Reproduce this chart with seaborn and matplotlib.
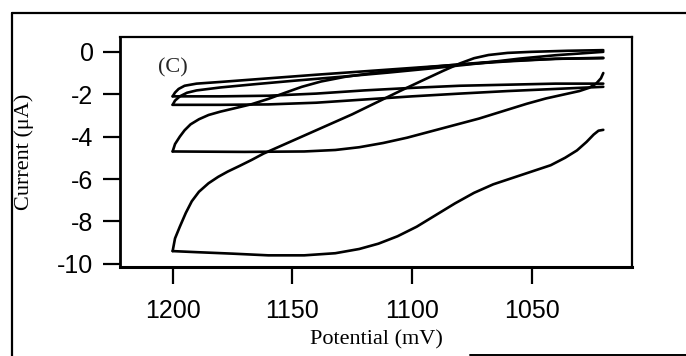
import numpy as np
import pandas as pd
import matplotlib
matplotlib.use('Agg')
import matplotlib.pyplot as plt
import seaborn as sns

# ---- values (potential in mV, current in uA) ----
# cycle 1 (largest loop)
big_fwd_v = [1020, 1022, 1024, 1027, 1031, 1036, 1042, 1050, 1058, 1066, 1074, 1082, 1090,
             1098, 1106, 1114, 1122, 1132, 1145, 1160, 1175, 1190, 1200]
big_fwd_i = [-3.68, -3.72, -3.9, -4.25, -4.65, -5.0, -5.35, -5.65, -5.95, -6.25, -6.65, -7.15,
             -7.7, -8.25, -8.7, -9.05, -9.3, -9.5, -9.6, -9.6, -9.52, -9.45, -9.4]
big_rev_v = [1200, 1199, 1197, 1194.5, 1192, 1189, 1185, 1181, 1177, 1172, 1167, 1162, 1155,
             1145, 1135, 1125, 1115, 1105, 1095, 1087, 1080, 1074, 1068, 1060, 1050, 1035, 1020]
big_rev_i = [-9.4, -8.8, -8.25, -7.6, -7.05, -6.6, -6.2, -5.9, -5.65, -5.38, -5.1, -4.8, -4.45,
             -3.95, -3.45, -2.95, -2.4, -1.85, -1.32, -0.9, -0.55, -0.3, -0.15, -0.05, 0.0, 0.05, 0.08]

# cycle 2 (middle loop)
mid_fwd_v = [1020, 1021, 1023, 1026, 1030, 1036, 1044, 1052, 1062, 1072, 1082, 1092, 1102,
             1112, 1122, 1132, 1145, 1170, 1200]
mid_fwd_i = [-1.0, -1.25, -1.5, -1.7, -1.85, -2.0, -2.2, -2.45, -2.8, -3.15, -3.45, -3.75,
             -4.05, -4.3, -4.5, -4.63, -4.7, -4.72, -4.7]
mid_rev_v = [1200, 1199, 1197, 1195, 1192.5, 1189, 1185, 1180, 1174, 1167, 1160, 1153, 1146,
             1138, 1128, 1115, 1100, 1085, 1070, 1055, 1040, 1020]
mid_rev_i = [-4.7, -4.35, -4.0, -3.7, -3.42, -3.18, -2.98, -2.82, -2.66, -2.47, -2.22, -1.93,
             -1.65, -1.4, -1.18, -0.98, -0.8, -0.64, -0.5, -0.4, -0.33, -0.3]

# later cycles (small loops)
s1_fwd_v = [1020, 1040, 1060, 1080, 1100, 1120, 1140, 1160, 1180, 1200]
s1_fwd_i = [-1.5, -1.5, -1.55, -1.6, -1.7, -1.82, -1.97, -2.07, -2.1, -2.1]
s1_rev_v = [1200, 1199, 1197.5, 1195, 1190, 1180, 1160, 1140, 1120, 1100, 1080, 1060, 1040, 1020]
s1_rev_i = [-2.1, -1.92, -1.75, -1.6, -1.5, -1.42, -1.25, -1.08, -0.92, -0.76, -0.6, -0.45,
            -0.33, -0.28]

s2_fwd_v = [1020, 1040, 1060, 1080, 1100, 1120, 1140, 1160, 1180, 1200]
s2_fwd_i = [-1.65, -1.75, -1.85, -1.97, -2.1, -2.25, -2.4, -2.48, -2.5, -2.5]
s2_rev_v = [1200, 1199, 1197, 1194, 1190, 1180, 1165, 1150, 1130, 1110, 1090, 1070, 1055, 1040, 1020]
s2_rev_i = [-2.5, -2.3, -2.1, -1.93, -1.82, -1.68, -1.52, -1.37, -1.18, -0.98, -0.76, -0.52,
            -0.32, -0.16, 0.0]

segments = {
    'big_fwd': (big_fwd_v, big_fwd_i), 'big_rev': (big_rev_v, big_rev_i),
    'mid_fwd': (mid_fwd_v, mid_fwd_i), 'mid_rev': (mid_rev_v, mid_rev_i),
    's1_fwd': (s1_fwd_v, s1_fwd_i), 's1_rev': (s1_rev_v, s1_rev_i),
    's2_fwd': (s2_fwd_v, s2_fwd_i), 's2_rev': (s2_rev_v, s2_rev_i),
}

x_ticks = [1200, 1150, 1100, 1050]
y_ticks = [0, -2, -4, -6, -8, -10]
y_tick_labels = ['0', '-2', '-4', '-6', '-8', '-10']

rows = []
for name, (v, i) in segments.items():
    for vv, ii in zip(v, i):
        rows.append({'seg': name, 'potential': vv, 'current': ii})
df = pd.DataFrame(rows)

sns.set_theme(style='ticks')
plt.rcParams['font.family'] = ['Liberation Sans', 'DejaVu Sans']
plt.rcParams['axes.unicode_minus'] = False

W, H = 686, 356
fig = plt.figure(figsize=(W / 100, H / 100), dpi=100)
fig.patch.set_facecolor('white')
ax = fig.add_axes([120 / W, 1 - 267 / H, (632 - 120) / W, (267 - 37) / H])

sns.lineplot(data=df, x='potential', y='current', units='seg', estimator=None,
             sort=False, color='black', linewidth=1.9, ax=ax, legend=False)

ax.set_xlim(1222, 1008)
ax.set_ylim(-10.15, 0.7)
ax.set_xticks(x_ticks)
ax.set_xticklabels([str(t) for t in x_ticks], fontsize=18)
ax.set_yticks(y_ticks)
ax.set_yticklabels(y_tick_labels, fontsize=18)
ax.tick_params(axis='both', direction='out', length=12, width=1.6, color='black',
               labelcolor='black')
ax.tick_params(axis='x', pad=11)
ax.tick_params(axis='y', pad=7)
for side in ['left', 'right', 'top', 'bottom']:
    ax.spines[side].set_visible(True)
    ax.spines[side].set_color('black')
    ax.spines[side].set_linewidth(1.6)
ax.spines['bottom'].set_linewidth(2.2)
ax.spines['left'].set_linewidth(2.0)

serif = ['Liberation Serif', 'DejaVu Serif']
ax.set_xlabel('Potential (mV)', family=serif, fontsize=16, color='black')
ax.xaxis.label.set_verticalalignment('center')
ax.xaxis.set_label_coords(0.5, (267 - 340) / (267 - 37))
ax.set_ylabel('Current (μA)', family=serif, fontsize=16, color='black')
ax.yaxis.label.set_verticalalignment('center')
ax.yaxis.set_label_coords((24 - 120) / (632 - 120), 0.5)

ax.text((173 - 120) / (632 - 120), 1 - (68 - 37) / (267 - 37), '(C)', family=serif,
        fontsize=16, ha='center', va='center', transform=ax.transAxes)

# outer frame of the scanned panel
def px_line(x0, y0, x1, y1, lw=1.6):
    fig.add_artist(plt.Line2D([x0 / W, x1 / W], [1 - y0 / H, 1 - y1 / H],
                              transform=fig.transFigure, color='black', linewidth=lw))

px_line(12, 13, 686, 13)
px_line(12, 13, 12, 356)
px_line(470, 354.5, 686, 354.5, lw=1.4)

fig.savefig('out.png', dpi=100)
